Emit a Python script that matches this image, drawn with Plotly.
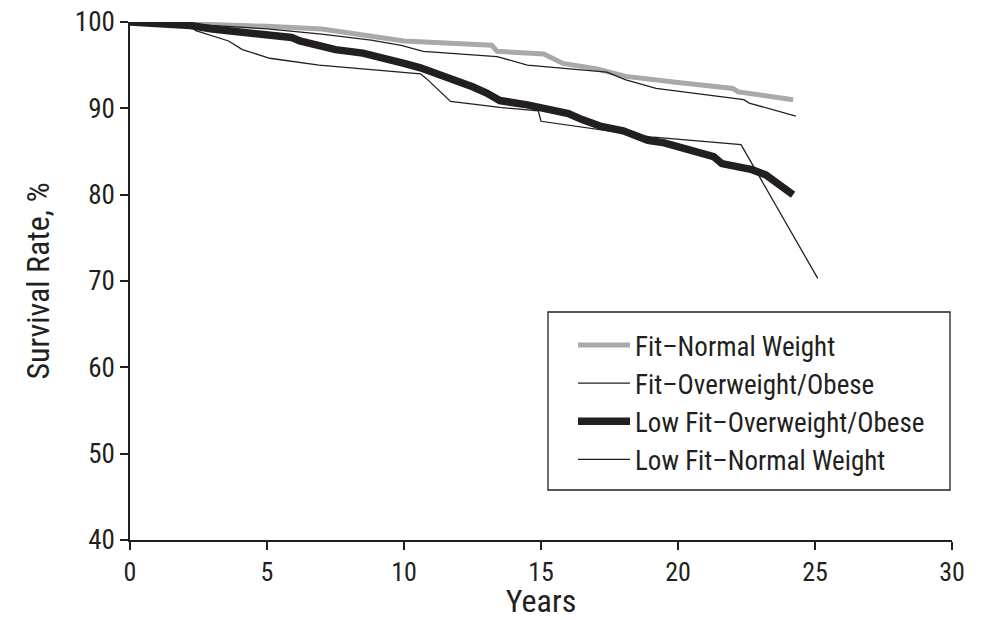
import plotly.graph_objects as go

# ---- data ----
fnw_x = [0, 2.5, 5, 7, 8, 10, 13.2, 13.4, 15.1, 15.8, 17, 18.1, 20, 22, 22.2, 24.2]
fnw_y = [100, 99.8, 99.5, 99.2, 98.7, 97.8, 97.3, 96.6, 96.3, 95.2, 94.6, 93.7, 93.0, 92.3, 91.9, 91.0]

fow_x = [0, 2.5, 5, 7, 8.8, 9.9, 10.7, 13.4, 14.5, 17.4, 18.1, 19.2, 22.4, 22.6, 24.3]
fow_y = [100, 99.7, 99.2, 98.6, 97.9, 97.3, 96.6, 96.0, 95.0, 94.2, 93.3, 92.3, 91.0, 90.6, 89.1]

lfow_x = [0, 2.2, 3, 4, 5, 5.9, 6.2, 7, 7.5, 8.5, 9.5, 10, 10.6, 11.7, 12.5, 13, 13.5, 14.5,
          15.3, 16, 16.5, 17.2, 18, 18.9, 19.5, 20.8, 21.3, 21.6, 22.7, 23.2, 23.8, 24.2]
lfow_y = [100, 99.6, 99.2, 98.9, 98.5, 98.2, 97.8, 97.2, 96.8, 96.4, 95.7, 95.2, 94.7, 93.5, 92.5,
          91.8, 90.9, 90.4, 89.8, 89.4, 88.7, 87.9, 87.4, 86.3, 86.0, 85.0, 84.4, 83.6, 82.9, 82.3,
          81.0, 80.0]

lfnw_x = [0, 2.2, 2.4, 3.6, 4.1, 5.1, 6.9, 10.6, 10.8, 11.7, 13.5, 14.9, 15.0, 17.2, 19, 22.3, 25.1]
lfnw_y = [100, 99.6, 99.0, 97.8, 96.8, 95.8, 95.0, 94.0, 93.5, 90.8, 90.1, 89.7, 88.5, 87.5, 86.7, 85.8, 70.3]

x_ticks = [0, 5, 10, 15, 20, 25, 30]
y_ticks = [40, 50, 60, 70, 80, 90, 100]

FONT = "Liberation Sans Narrow, Arial Narrow, Roboto Condensed, Liberation Sans, sans-serif"
TXT = "#231f20"

fig = go.Figure()
fig.add_trace(go.Scatter(x=fnw_x, y=fnw_y, mode="lines", name="Fit\u2013Normal Weight",
                         line=dict(color="#a7a9ac", width=5), legendgroup="a"))
fig.add_trace(go.Scatter(x=fow_x, y=fow_y, mode="lines", name="Fit\u2013Overweight/Obese",
                         line=dict(color="#231f20", width=1.3), legendgroup="b"))
fig.add_trace(go.Scatter(x=lfow_x, y=lfow_y, mode="lines", name="Low Fit\u2013Overweight/Obese",
                         line=dict(color="#231f20", width=7.5), legendgroup="c"))
fig.add_trace(go.Scatter(x=lfnw_x, y=lfnw_y, mode="lines", name="Low Fit\u2013Normal Weight",
                         line=dict(color="#231f20", width=1.3), legendgroup="d"))

PW, PH = 822, 518
fig.update_layout(
    width=984, height=620,
    margin=dict(l=130, r=32, t=22, b=80, autoexpand=False),
    paper_bgcolor="white", plot_bgcolor="white",
    font=dict(family=FONT, size=27, color=TXT),
    showlegend=True,
    legend=dict(x=(573 - 130) / PW, y=(540 - 321) / PH, xanchor="left", yanchor="top",
                bgcolor="rgba(0,0,0,0)", borderwidth=0,
                traceorder="grouped", tracegroupgap=0,
                font=dict(family=FONT, size=27, color=TXT), itemwidth=52),
    shapes=[dict(type="rect", xref="paper", yref="paper",
                 x0=(548 - 130) / PW, x1=(950 - 130) / PW,
                 y0=(540 - 490) / PH, y1=(540 - 312) / PH,
                 line=dict(color="#231f20", width=1.3), fillcolor="rgba(0,0,0,0)", layer="below")],
)
fig.update_xaxes(range=[0, 30], tickvals=x_ticks, showgrid=False, zeroline=False,
                 showline=True, linecolor="#231f20", linewidth=1.5, automargin=False,
                 ticks="outside", ticklen=8, tickcolor="#231f20", tickwidth=1.5,
                 title=dict(text="Years", standoff=18),
                 tickfont=dict(family=FONT, size=26, color=TXT))
fig.update_yaxes(range=[40, 100], tickvals=y_ticks, showgrid=False, zeroline=False,
                 showline=True, linecolor="#231f20", linewidth=1.5, automargin=False,
                 ticks="outside", ticklen=8, tickcolor="#231f20", tickwidth=1.5,
                 title=dict(text="Survival Rate, %", standoff=16),
                 tickfont=dict(family=FONT, size=27, color=TXT))

fig.write_html("out.html", config={"displayModeBar": False},
               post_script="document.body.style.margin='0';document.body.style.overflow='hidden';")
